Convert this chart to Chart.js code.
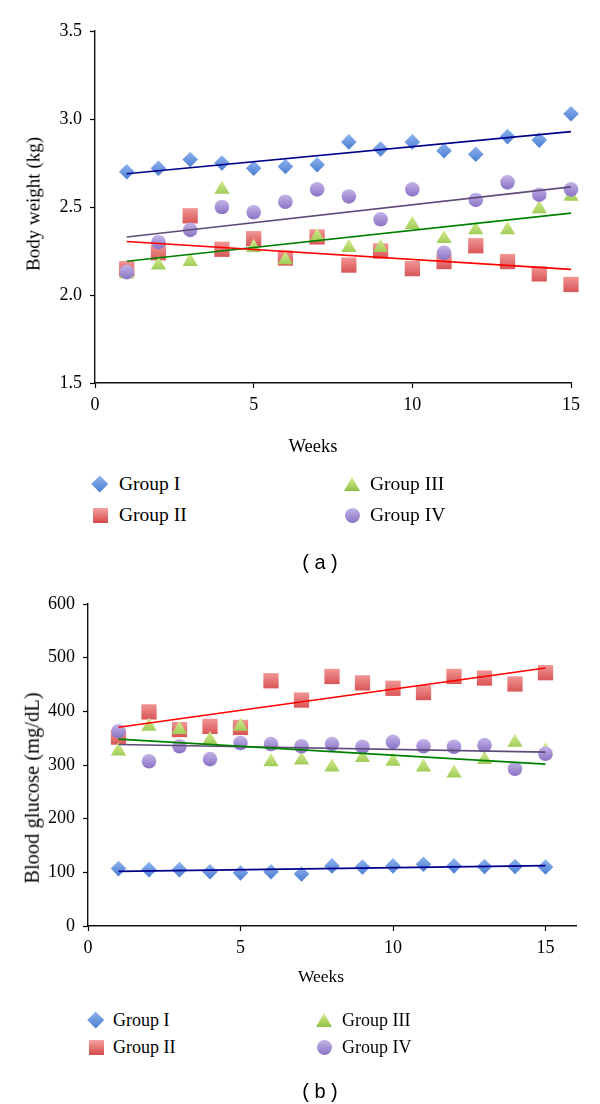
<!DOCTYPE html>
<html><head><meta charset="utf-8">
<script src="https://cdn.jsdelivr.net/npm/chart.js@4.4.1/dist/chart.umd.min.js"></script>
<style>
html,body{margin:0;padding:0;background:#fff;}
#page{position:relative;width:600px;height:1104px;overflow:hidden;background:#fff;font-family:"Liberation Serif","Times New Roman",serif;color:#000;}
canvas{position:absolute;left:0;}
.t{position:absolute;white-space:nowrap;line-height:1;transform:translate(0,-50%);}
.c{position:absolute;white-space:pre;line-height:1;transform:translate(-50%,-50%);}
.r{position:absolute;white-space:nowrap;line-height:1;transform:translate(-50%,-50%) rotate(-90deg);}
.cap{font-family:"Liberation Sans",Arial,sans-serif;}
.mk{position:absolute;}
</style></head><body>
<div id="page">
  <canvas id="ca" width="600" height="460" style="top:0"></canvas>
  <canvas id="cb" width="600" height="410" style="top:580px"></canvas>
</div>
<script>
// ---------- data ----------
const weeks = [1,2,3,4,5,6,7,8,9,10,11,12,13,14,15];
const groupNames = ['Group I','Group II','Group III','Group IV'];
// (a) Body weight (kg)
const bwGroupI   = [2.70,2.72,2.77,2.75,2.72,2.73,2.74,2.87,2.83,2.87,2.82,2.80,2.90,2.88,3.03];
const bwGroupII  = [2.15,2.24,2.45,2.26,2.32,2.21,2.33,2.17,2.25,2.15,2.19,2.28,2.19,2.12,2.06];
const bwGroupIII = [2.12,2.17,2.19,2.60,2.27,2.20,2.33,2.27,2.27,2.40,2.32,2.37,2.37,2.49,2.56];
const bwGroupIV  = [2.13,2.30,2.37,2.50,2.47,2.53,2.60,2.56,2.43,2.60,2.24,2.54,2.64,2.57,2.60];
// (b) Blood glucose (mg/dL)
const bgGroupI   = [107,105,105,101,99,101,97,112,110,112,115,112,111,111,110];
const bgGroupII  = [352,399,366,372,370,457,421,465,453,443,435,465,462,451,472];
const bgGroupIII = [326,372,366,347,372,306,309,296,314,307,296,285,310,342,326];
const bgGroupIV  = [363,307,335,311,341,339,335,339,334,343,335,334,337,293,321];
// ticks
const xTicksA = [0,5,10,15];
const yTicksA = [1.5,2.0,2.5,3.0,3.5];
const xTicksB = [0,5,10,15];
const yTicksB = [0,100,200,300,400,500,600];

// ---------- styles ----------
const SERIF = '"Liberation Serif","Times New Roman",serif';
const marker = [
  {style:'rectRot',  r:7.8, top:'#8fb4ee', bot:'#4a7dd2', line:'#00008b'},
  {style:'rect',     r:10.8,top:'#f6a3a3', bot:'#d44848', line:'#ff0000'},
  {style:'triangle', r:8.8, top:'#d6ec93', bot:'#8fc143', line:'#008000'},
  {style:'circle',   r:7.3, top:'#c3b4e8', bot:'#8a72c4', line:'#5f4b7a'}
];

function shade(top, bot, half){
  return (c) => {
    if (c.type !== 'data' || !c.parsed) return bot;
    const s = c.chart.scales && c.chart.scales.y;
    if (!s) return bot;
    const y = s.getPixelForValue(c.parsed.y);
    if (!isFinite(y)) return bot;
    const g = c.chart.ctx.createLinearGradient(0, y - half, 0, y + half);
    g.addColorStop(0, top); g.addColorStop(1, bot);
    return g;
  };
}
function pts(xs, ys){ return xs.map((x,i)=>({x:x, y:ys[i]})); }
function trend(xs, ys){
  const n = xs.length;
  const mx = xs.reduce((a,b)=>a+b,0)/n, my = ys.reduce((a,b)=>a+b,0)/n;
  let sxy=0, sxx=0;
  for (let i=0;i<n;i++){ sxy += (xs[i]-mx)*(ys[i]-my); sxx += (xs[i]-mx)*(xs[i]-mx); }
  const b = sxy/sxx, a = my - b*mx;
  return [{x:xs[0], y:a+b*xs[0]}, {x:xs[n-1], y:a+b*xs[n-1]}];
}
function buildDatasets(series){
  const ds = [];
  series.forEach((ys, i) => {
    const m = marker[i];
    ds.push({
      label: groupNames[i], data: pts(weeks, ys), showLine:false,
      pointStyle: m.style, pointRadius: m.r, pointHoverRadius: m.r,
      pointBorderWidth: 0, borderWidth: 0,
      backgroundColor: m.bot,
      pointBackgroundColor: shade(m.top, m.bot, m.r),
      order: 4 - i, clip: false
    });
  });
  series.forEach((ys, i) => {
    ds.push({
      label: groupNames[i] + ' trend', data: trend(weeks, ys), showLine:true,
      borderColor: marker[i].line, borderWidth: 1.6, pointRadius: 0,
      fill:false, order: 0, clip: false
    });
  });
  return ds;
}
function axis(min, max, ticks, fmt, size, fitKey, fitVal, tickPad){
  return {
    type:'linear', min:min, max:max,
    grid:{display:true, drawOnChartArea:false, drawTicks:true, tickLength:5, color:'#000', tickColor:'#000', tickWidth:1.2},
    border:{display:true, color:'#111', width:1.4},
    ticks:{color:'#000', font:{family:SERIF, size:size}, padding:tickPad, autoSkip:false, maxRotation:0,
           callback:(v)=>fmt(v)},
    afterBuildTicks:(s)=>{ s.ticks = ticks.map(v=>({value:v})); },
    afterFit:(s)=>{ s[fitKey] = fitVal; }
  };
}
function makeChart(id, series, xs, ys, pad, xFit, yFit, fontSize, xPad, yPad){
  return new Chart(document.getElementById(id), {
    type:'scatter',
    data:{datasets: buildDatasets(series)},
    options:{
      responsive:false, animation:false, events:[],
      layout:{padding:pad},
      plugins:{legend:{display:false}, tooltip:{enabled:false}},
      scales:{
        x: axis(xs.min, xs.max, xs.ticks, (v)=>String(v), fontSize, 'height', xFit, xPad),
        y: axis(ys.min, ys.max, ys.ticks, ys.fmt, fontSize, 'width', yFit, yPad)
      }
    }
  });
}

makeChart('ca', [bwGroupI,bwGroupII,bwGroupIII,bwGroupIV],
  {min:0,max:15,ticks:xTicksA}, {min:1.5,max:3.5,ticks:yTicksA,fmt:(v)=>v.toFixed(1)},
  {top:31,right:29,left:0,bottom:0}, 77, 95, 18, 6, 8);
makeChart('cb', [bgGroupI,bgGroupII,bgGroupIII,bgGroupIV],
  {min:0,max:16,ticks:xTicksB}, {min:0,max:600,ticks:yTicksB,fmt:(v)=>String(v)},
  {top:24,right:24,left:0,bottom:0}, 64, 88, 18, 6, 8);

// ---------- text & legends (HTML) ----------
const page = document.getElementById('page');
function txt(cls, s, x, y, size, extra){
  const d = document.createElement('div');
  d.className = cls; d.textContent = s;
  d.style.left = x + 'px'; d.style.top = y + 'px'; d.style.fontSize = size + 'px';
  if (extra) Object.assign(d.style, extra);
  page.appendChild(d);
}
function mk(i, cx, cy){
  const m = marker[i]; const d = document.createElement('div'); d.className='mk';
  let w=15,h=15;
  if (i===0){ w=h=11.5; d.style.transform='rotate(45deg)'; d.style.background='linear-gradient(135deg,'+m.top+','+m.bot+')'; }
  if (i===1){ d.style.background='linear-gradient(180deg,'+m.top+','+m.bot+')'; }
  if (i===2){ w=16; h=14; d.style.clipPath='polygon(50% 0,100% 100%,0 100%)'; d.style.background='linear-gradient(180deg,'+m.top+','+m.bot+')'; }
  if (i===3){ d.style.borderRadius='50%'; d.style.background='linear-gradient(180deg,'+m.top+','+m.bot+')'; }
  d.style.width=w+'px'; d.style.height=h+'px';
  d.style.left=(cx-w/2)+'px'; d.style.top=(cy-h/2)+'px';
  page.appendChild(d);
}
function legend(rows, cols, txtX, size){
  for (let c=0;c<2;c++) for (let r=0;r<2;r++){
    const i = c*2 + r;
    mk(i, cols[c], rows[r]);
    txt('t', groupNames[i], txtX[c], rows[r], size);
  }
}
// (a)
txt('r', 'Body weight (kg)', 33, 204, 19);
txt('c', 'Weeks', 313, 446, 18.5);
legend([484, 515], [100, 352], [119, 370], 19.5);
txt('c cap', '( a )', 320, 562, 20);
// (b)
txt('r', 'Blood glucose (mg/dL)', 32, 788, 20.5);
txt('c', 'Weeks', 321, 977, 17.5);
legend([1020, 1047], [96, 324], [113, 342], 18);
txt('c cap', '( b )', 320, 1091, 20);
</script>
</body></html>
